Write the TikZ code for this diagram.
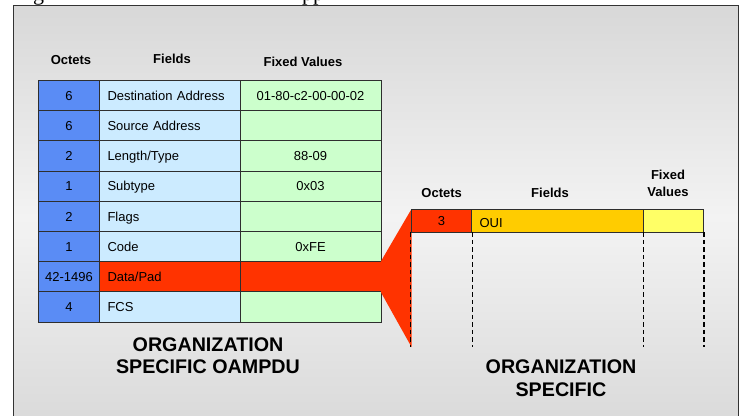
\documentclass[tikz,border=0pt]{standalone}
\usepackage{fontspec}
\setmainfont{Liberation Sans}
\newfontfamily\captionserif{Liberation Serif}
\usetikzlibrary{calc}

\definecolor{octblue}{HTML}{5A8CF5}
\definecolor{fieldblue}{HTML}{CCEBFF}
\definecolor{valgreen}{HTML}{CCFFCC}
\definecolor{funred}{HTML}{FF3300}
\definecolor{ouiorange}{HTML}{FFCC00}
\definecolor{fixyellow}{HTML}{FFFF66}
\definecolor{cellline}{HTML}{2E2E2E}
\definecolor{framecol}{HTML}{333333}
\definecolor{bgtop}{HTML}{D8D8D8}
\definecolor{bgmid}{HTML}{F3F3F3}
\definecolor{bgbot}{HTML}{D9D9D9}

\newcommand\tablefont{\fontsize{13}{15}\selectfont}
\newcommand\headfont{\fontsize{13}{16.7}\selectfont\bfseries}
\newcommand\titlefont{\fontsize{19.7}{22.5}\selectfont\bfseries}

% one row of the OAMPDU table: index, octets, field, value, field fill, value fill
\newcommand\pdurow[6]{%
  \pgfmathsetmacro\rowy{80.5+30.2*(#1-0.5)}
  \node[cell, fill=octblue, minimum width=61pt] (oct#1) at (69,\rowy) {#2};
  \node[cell, fill=#5, text width=124.5pt, inner xsep=8pt, align=left] (fld#1) at (169.75,\rowy) {#3};
  \node[cell, fill=#6, minimum width=141pt] (val#1) at (310.5,\rowy) {#4};
}

\begin{document}
\begin{tikzpicture}[x=1pt,y=-1pt,
  cell/.style={draw=cellline, line width=0.9pt, inner sep=0pt, minimum height=30.2pt,
    text height=9.3pt, text depth=0pt, font=\tablefont},
  smallcell/.style={cell, minimum height=23pt},
  head/.style={inner sep=0pt, font=\headfont, align=center},
  title/.style={inner sep=0pt, font=\titlefont, align=center},
  guide/.style={draw=black, line width=1.3pt, dash pattern=on 4.5pt off 3pt}]
\useasboundingbox (0,0) rectangle (743,415);

% text line cut off at the top edge
\node[anchor=base west, inner sep=0pt, font=\captionserif\fontsize{22}{24}\selectfont] (capg) at (33,0.5) {g};
\node[anchor=base west, inner sep=0pt, font=\captionserif\fontsize{22}{24}\selectfont] (cappp) at (302,0.5) {pp};

% shaded panel (drawn with an upward y axis so the shading runs top to bottom)
\begin{scope}[y=1pt]
  \shade[top color=bgtop, bottom color=bgbot, middle color=bgmid] (13.5,-430) rectangle (738.5,-5.5);
\end{scope}
\draw[framecol, line width=1.5pt] (13.5,430) -- (13.5,5.5) -- (738.5,5.5) -- (738.5,430);

% OAMPDU table
\node[head] (hoct) at (71,60) {Octets};
\node[head] (hfld) at (172,59) {Fields};
\node[head] (hval) at (303,61.5) {Fixed Values};

\pdurow{1}{6}{Destination Address}{01-80-c2-00-00-02}{fieldblue}{valgreen}
\pdurow{2}{6}{Source Address}{}{fieldblue}{valgreen}
\pdurow{3}{2}{Length/Type}{88-09}{fieldblue}{valgreen}
\pdurow{4}{1}{Subtype}{0x03}{fieldblue}{valgreen}
\pdurow{5}{2}{Flags}{}{fieldblue}{valgreen}
\pdurow{6}{1}{Code}{0xFE}{fieldblue}{valgreen}
\pdurow{7}{42-1496}{Data/Pad}{}{funred}{funred}
\pdurow{8}{4}{FCS}{}{fieldblue}{valgreen}

\node[title] (ltitle) at (208,355.8) {ORGANIZATION\\SPECIFIC OAMPDU};

% widening band from the Data/Pad row
\fill[funred] ($(val7.north east)+(-0.5,0)$) -- (411.5,209) -- (411.5,347) -- ($(val7.south east)+(-0.5,0)$) -- cycle;

% organization specific table
\node[head] (rhoct) at (441.7,193.3) {Octets};
\node[head] (rhfld) at (550,193.3) {Fields};
\node[head] (rhval) at (668,183.3) {Fixed\\Values};

\node[smallcell, fill=funred, minimum width=61pt] (roct) at (441.5,220.5) {3};
\node[smallcell, fill=ouiorange, text width=155.5pt, inner xsep=8pt, align=left] (rfld) at (557.25,220.5) {\raisebox{-2pt}{OUI}};
\node[smallcell, fill=fixyellow, minimum width=60.5pt] (rval) at (673.25,220.5) {};

\coordinate (dashend) at (0,347);
\draw[guide] (roct.south west) -- (roct.south west |- dashend);
\draw[guide] (roct.south east) -- (roct.south east |- dashend);
\draw[guide] (rfld.south east) -- (rfld.south east |- dashend);
\draw[guide] (rval.south east) -- (rval.south east |- dashend);

\node[title] (rtitle) at (561,378.3) {ORGANIZATION\\SPECIFIC};
\end{tikzpicture}
\end{document}
